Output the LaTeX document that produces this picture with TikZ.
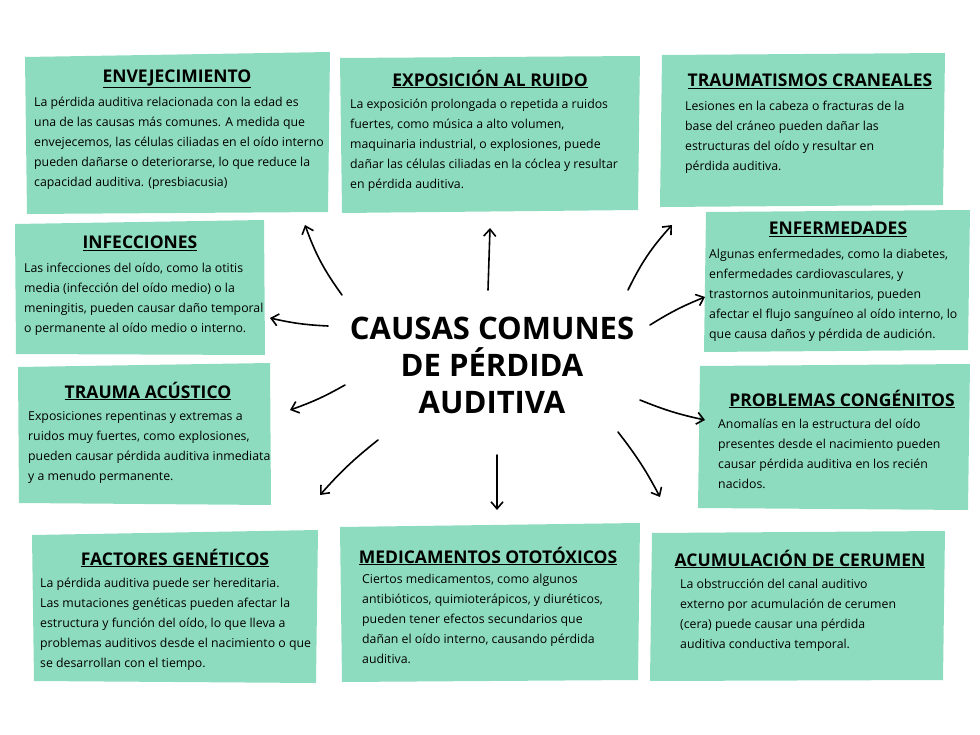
\documentclass[tikz,border=0pt]{standalone}
\usepackage{fontspec}
\setmainfont{Open Sans}
\usetikzlibrary{arrows.meta}
\definecolor{mint}{HTML}{8EDCC0}
\begin{document}
\begin{tikzpicture}[x=1pt,y=-1pt,
 box/.style={fill=mint,draw=none},
 head/.style={font=\fontsize{17.5}{19}\selectfont\bfseries,anchor=center},
 body/.style={font=\fontsize{12.3}{20}\selectfont,anchor=north west,align=left,inner sep=0},
 arr/.style={draw=black,line width=1.6pt,line cap=round,-{Straight Barb[length=7pt,width=12pt]}}]
\useasboundingbox (0,0) rectangle (980,735);
\fill[white] (0,0) rectangle (980,735);
\newcommand{\hd}[3]{\node[head] (#1) at #2 {\underline{#3}};}
% boxes
\fill[box] (25,57) -- (330,52) -- (328,212) -- (27,214) -- cycle;
\fill[box] (340,58) -- (640,56) -- (638,210) -- (342,213) -- cycle;
\fill[box] (662,55) -- (945,53) -- (943,205) -- (660,207) -- cycle;
\fill[box] (15,224) -- (264,220) -- (265,355) -- (16,354) -- cycle;
\fill[box] (706,212) -- (970,210) -- (968,350) -- (704,352) -- cycle;
\fill[box] (18,367) -- (270,363) -- (271,505) -- (19,503) -- cycle;
\fill[box] (700,366) -- (970,364) -- (968,510) -- (698,508) -- cycle;
\fill[box] (32,535) -- (318,530) -- (316,683) -- (34,681) -- cycle;
\fill[box] (340,527) -- (640,523) -- (638,680) -- (342,682) -- cycle;
\fill[box] (652,533) -- (945,531) -- (943,680) -- (650,681) -- cycle;
% headings
\hd{h1}{(177,79)}{ENVEJECIMIENTO}
\hd{h2}{(490,79)}{EXPOSICIÓN AL RUIDO}
\hd{h3}{(810,81)}{TRAUMATISMOS CRANEALES}
\hd{h4}{(140,243)}{INFECCIONES}
\hd{h5}{(838,229)}{ENFERMEDADES}
\hd{h6}{(148,391)}{TRAUMA ACÚSTICO}
\hd{h7}{(842,399)}{PROBLEMAS CONGÉNITOS}
\hd{h8}{(175,558)}{FACTORES GENÉTICOS}
\hd{h9}{(488,556)}{MEDICAMENTOS OTOTÓXICOS}
\hd{h10}{(800,559)}{ACUMULACIÓN DE CERUMEN}
% bodies
\node[body] (b1) at (34,97) {La pérdida auditiva relacionada con la edad es\\una de las causas más comunes. A medida que\\envejecemos, las células ciliadas en el oído interno\\pueden dañarse o deteriorarse, lo que reduce la\\capacidad auditiva. (presbiacusia)};
\node[body] (b2) at (350,99) {La exposición prolongada o repetida a ruidos\\fuertes, como música a alto volumen,\\maquinaria industrial, o explosiones, puede\\dañar las células ciliadas en la cóclea y resultar\\en pérdida auditiva.};
\node[body] (b3) at (685,101) {Lesiones en la cabeza o fracturas de la\\base del cráneo pueden dañar las\\estructuras del oído y resultar en\\pérdida auditiva.};
\node[body] (b4) at (24,263) {Las infecciones del oído, como la otitis\\media (infección del oído medio) o la\\meningitis, pueden causar daño temporal\\o permanente al oído medio o interno.};
\node[body] (b5) at (709,249) {Algunas enfermedades, como la diabetes,\\enfermedades cardiovasculares, y\\trastornos autoinmunitarios, pueden\\afectar el flujo sanguíneo al oído interno, lo\\que causa daños y pérdida de audición.};
\node[body] (b6) at (28,411) {Exposiciones repentinas y extremas a\\ruidos muy fuertes, como explosiones,\\pueden causar pérdida auditiva inmediata\\y a menudo permanente.};
\node[body] (b7) at (718,419) {Anomalías en la estructura del oído\\presentes desde el nacimiento pueden\\causar pérdida auditiva en los recién\\nacidos.};
\node[body] (b8) at (40,578) {La pérdida auditiva puede ser hereditaria.\\Las mutaciones genéticas pueden afectar la\\estructura y función del oído, lo que lleva a\\problemas auditivos desde el nacimiento o que\\se desarrollan con el tiempo.};
\node[body] (b9) at (362,574) {Ciertos medicamentos, como algunos\\antibióticos, quimioterápicos, y diuréticos,\\pueden tener efectos secundarios que\\dañan el oído interno, causando pérdida\\auditiva.};
\node[body] (b10) at (680,579) {La obstrucción del canal auditivo\\externo por acumulación de cerumen\\(cera) puede causar una pérdida\\auditiva conductiva temporal.};
% center
\node[font=\fontsize{31}{37}\selectfont\bfseries,align=center] (c) at (492,365) {CAUSAS COMUNES\\DE PÉRDIDA\\AUDITIVA};
% arrows
\coordinate (s1) at (342,295); \coordinate (t1) at (305,225);
\coordinate (s2) at (488,290); \coordinate (t2) at (490,228);
\coordinate (s3) at (628,290); \coordinate (t3) at (672,225);
\coordinate (s4) at (328,326); \coordinate (t4) at (270,318);
\coordinate (s5) at (650,325); \coordinate (t5) at (705,297);
\coordinate (s6) at (345,385); \coordinate (t6) at (290,410);
\coordinate (s7) at (640,400); \coordinate (t7) at (705,420);
\coordinate (s8) at (378,440); \coordinate (t8) at (320,495);
\coordinate (s9) at (497,455); \coordinate (t9) at (497,510);
\coordinate (s10) at (618,432); \coordinate (t10) at (660,497);
\draw[arr] (s1) to[bend left=8] (t1);
\draw[arr] (s2) -- (t2);
\draw[arr] (s3) to[bend left=8] (t3);
\draw[arr] (s4) to[bend left=5] (t4);
\draw[arr] (s5) to[bend left=5] (t5);
\draw[arr] (s6) to[bend left=5] (t6);
\draw[arr] (s7) to[bend right=5] (t7);
\draw[arr] (s8) to[bend right=5] (t8);
\draw[arr] (s9) -- (t9);
\draw[arr] (s10) to[bend left=5] (t10);
\end{tikzpicture}
\end{document}
